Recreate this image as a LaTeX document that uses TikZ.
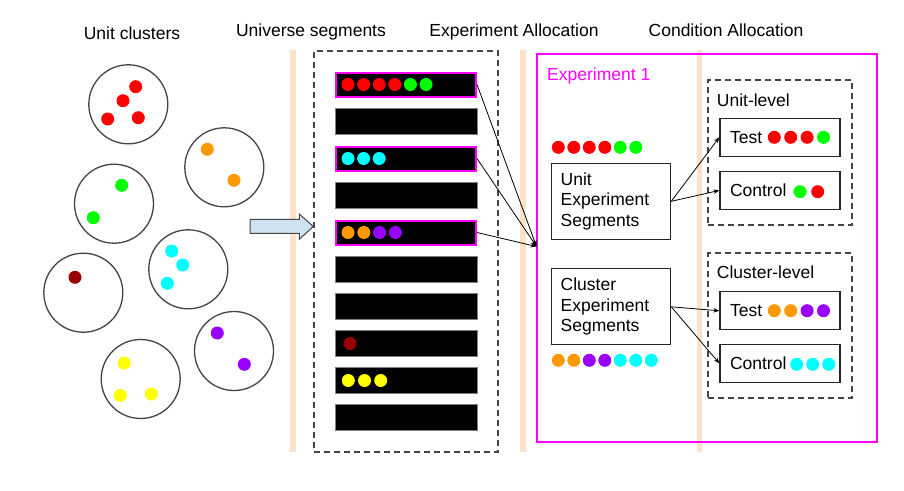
\documentclass[tikz,border=0pt]{standalone}
\usepackage{fontspec}
\setmainfont{Liberation Sans}
\usetikzlibrary{arrows.meta}
\definecolor{peach}{RGB}{250,226,203}
\definecolor{mag}{RGB}{255,0,255}
\definecolor{dred}{RGB}{153,0,0}
\definecolor{orng}{RGB}{255,153,0}
\definecolor{purp}{RGB}{153,0,255}
\definecolor{cyn}{RGB}{0,255,255}
\definecolor{grn}{RGB}{0,255,0}
\definecolor{ylw}{RGB}{255,255,0}
\definecolor{rd}{RGB}{255,0,0}
\definecolor{lblue}{RGB}{207,226,243}
\definecolor{dgray}{RGB}{68,68,68}
\newcommand{\ball}[3]{\fill[#1] (#2,#3) circle (6.5pt);}
\begin{document}
\begin{tikzpicture}[x=1pt,y=-1pt,
  every node/.style={font=\fontsize{17.5}{20.5}\selectfont},
  cluster/.style={circle, draw=dgray, line width=1.3pt, minimum size=79pt, inner sep=0pt},
  seg/.style={draw=gray, fill=black, minimum width=142pt, minimum height=26pt, inner sep=0pt},
  segsel/.style={draw=mag, line width=2pt, fill=black, minimum width=140pt, minimum height=24pt, inner sep=0pt},
  dbox/.style={draw=dgray, line width=2pt, dash pattern=on 6pt off 4pt, inner sep=0pt},
  allocbox/.style={draw=black!85, line width=1.2pt, text width=101pt, inner xsep=9pt, minimum height=76pt, align=left},
  condbox/.style={draw=black!85, line width=1.2pt, text width=100pt, inner xsep=10pt, minimum height=38pt, align=left},
  lbl/.style={inner sep=0pt, anchor=base west},
  head/.style={inner sep=0pt, anchor=base},
  link/.style={line width=0.8pt, -{Stealth[length=6pt,width=4.5pt]}}]
\useasboundingbox (0,0) rectangle (904,490);

\fill[peach] (290,50) rectangle (295.5,452);
\fill[peach] (520,50) rectangle (525.5,452);
\fill[peach] (696.5,50) rectangle (702,452);

\node[head] (h1) at (132,39.3) {Unit clusters};
\node[head] (h2) at (311,36) {Universe segments};
\node[head] (h3) at (514,36) {Experiment Allocation};
\node[head] (h4) at (726,36) {Condition Allocation};

\node[cluster] (redc) at (128.3,104.3) {};
\node[cluster] (orangec) at (224.3,167.3) {};
\node[cluster] (greenc) at (114,203.7) {};
\node[cluster] (cyanc) at (188.3,269.3) {};
\node[cluster] (darkc) at (83.3,292.7) {};
\node[cluster] (purplec) at (234,351) {};
\node[cluster] (yellowc) at (140.7,379) {};
\ball{rd}{135.7}{86.7} \ball{rd}{123}{100.7} \ball{rd}{107.7}{119} \ball{rd}{138.3}{117.7}
\ball{orng}{207.3}{149.3} \ball{orng}{234}{180.3}
\ball{grn}{121.7}{185.3} \ball{grn}{93.3}{217.7}
\ball{cyn}{171.7}{251} \ball{cyn}{182.7}{265} \ball{cyn}{167.3}{283.3}
\ball{dred}{75}{277.3}
\ball{purp}{217.3}{333} \ball{purp}{244.3}{364.3}
\ball{ylw}{124.3}{363} \ball{ylw}{120.3}{395.3} \ball{ylw}{151.3}{394}

\draw[fill=lblue, draw=dgray, line width=1pt] (250,219.3) -- (299.3,219.3) -- (299.3,214)
  -- (313.3,226.5) -- (299.3,239.3) -- (299.3,233.3) -- (250,233.3) -- cycle;

\node[dbox, minimum width=184pt, minimum height=401pt] (universe) at (406,251) {};
\foreach \i in {2,4,6,7,8,9,10}
  \node[seg] (s\i) at (406,47.5+37*\i) {};
\foreach \i in {1,3,5}
  \node[segsel] (s\i) at (406,47.5+37*\i) {};
\foreach \c [count=\k from 0] in {rd,rd,rd,rd,grn,grn}
  \fill[\c] (348+15.6*\k,84.5) circle (6.5pt);
\foreach \c [count=\k from 0] in {cyn,cyn,cyn}
  \fill[\c] (348+15.6*\k,158.5) circle (6.5pt);
\foreach \c [count=\k from 0] in {orng,orng,purp,purp}
  \fill[\c] (348+15.8*\k,232.5) circle (6.5pt);
\ball{dred}{350}{343.5}
\foreach \c [count=\k from 0] in {ylw,ylw,ylw}
  \fill[\c] (348.3+16.2*\k,380.5) circle (6.5pt);

\node[draw=mag, line width=2pt, minimum width=339.4pt, minimum height=388.3pt, inner sep=0pt] (exp1) at (707,248.2) {};
\node[lbl, text=mag] (exp1t) at (547,80.7) {Experiment 1};
\coordinate (alloc) at (536.5,246.5);
\draw[link] (s1.east) -- (alloc);
\draw[link] (s3.east) -- (alloc);
\draw[link] (s5.east) -- (alloc);

\node[allocbox] (unitseg) at (611.2,201.3) {Unit\\Experiment\\Segments};
\foreach \c [count=\k from 0] in {rd,rd,rd,rd,grn,grn}
  \fill[\c] (558.3+15.5*\k,147.3) circle (6.5pt);
\node[allocbox] (clusseg) at (611.2,306.8) {Cluster\\Experiment\\Segments};
\foreach \c [count=\k from 0] in {orng,orng,purp,purp,cyn,cyn,cyn}
  \fill[\c] (558.3+15.5*\k,360.3) circle (6.5pt);

\node[dbox, minimum width=144pt, minimum height=145pt] (unitlvl) at (780.3,152.5) {};
\node[lbl] (unitlvlt) at (716.7,106.7) {Unit-level};
\node[condbox] (utest) at (780,137.2) {Test};
\node[condbox] (uctrl) at (780,190.4) {Control};
\foreach \c [count=\k from 0] in {rd,rd,rd,grn}
  \fill[\c] (774.3+16.4*\k,137.3) circle (6.5pt);
\ball{grn}{800}{191.7} \ball{rd}{817.7}{191.7}

\node[dbox, minimum width=144pt, minimum height=144.4pt] (cluslvl) at (780.3,325.5) {};
\node[lbl] (cluslvlt) at (716.7,278.3) {Cluster-level};
\node[condbox] (ctest) at (780,310.8) {Test};
\node[condbox] (cctrl) at (780,363.4) {Control};
\foreach \c [count=\k from 0] in {orng,orng,purp,purp}
  \fill[\c] (774.3+16.4*\k,310.7) circle (6.5pt);
\foreach \c [count=\k from 0] in {cyn,cyn,cyn}
  \fill[\c] (796.7+16*\k,364.3) circle (6.5pt);

\draw[link] (unitseg.east) -- (utest.west);
\draw[link] (unitseg.east) -- (uctrl.west);
\draw[link] (clusseg.east) -- (ctest.west);
\draw[link] (clusseg.east) -- (cctrl.west);
\end{tikzpicture}
\end{document}
